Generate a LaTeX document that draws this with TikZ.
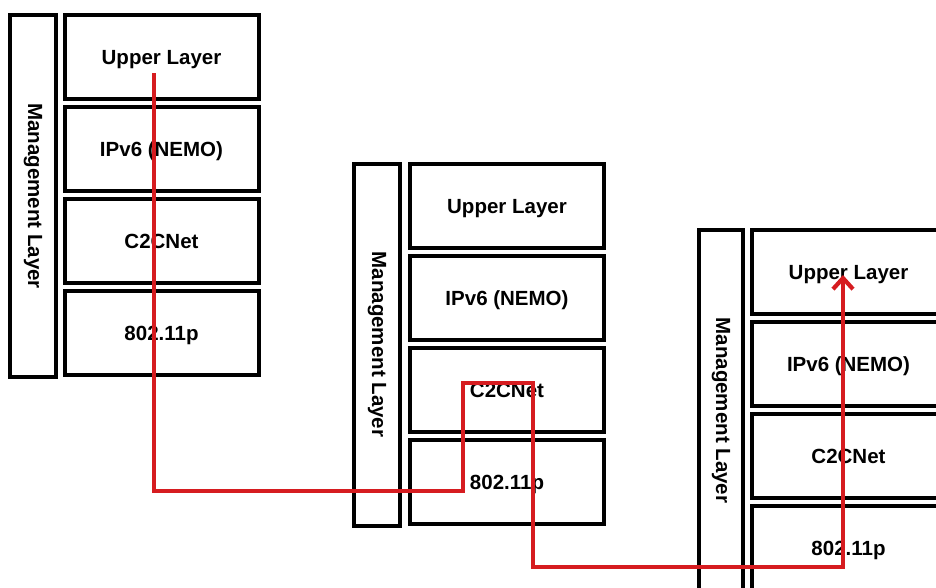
\documentclass[tikz,border=0pt]{standalone}
\usepackage{fontspec}
\setmainfont{Liberation Sans}
\usetikzlibrary{arrows.meta}
\definecolor{pathred}{RGB}{214,28,32}
\begin{document}
\begin{tikzpicture}[x=1pt,y=-1pt,
  layerbox/.style={draw, line width=4pt, minimum width=194pt, minimum height=84pt,
    inner sep=0pt, text height=14.7pt, text depth=0pt,
    font=\bfseries\fontsize{20.5}{24}\selectfont},
  mgmtbar/.style={draw, line width=4pt, rotate=-90, minimum width=362pt, minimum height=46pt,
    inner sep=0pt, font=\bfseries\fontsize{20.5}{24}\selectfont},
  redpath/.style={draw=pathred, line width=4.2pt, line join=miter}]
\clip (0,0) rectangle (936,587);
\fill[white] (0,0) rectangle (936,587);
% stack 1
\node[mgmtbar] (m1) at (33,196) {Management Layer};
\node[layerbox] (u1) at (161.5,57) {Upper Layer};
\node[layerbox] (i1) at (161.5,149) {IPv6 (NEMO)};
\node[layerbox] (c1) at (161.5,241) {C2CNet};
\node[layerbox] (w1) at (161.5,333) {802.11p};
% stack 2
\node[mgmtbar] (m2) at (377,344.5) {Management Layer};
\node[layerbox] (u2) at (507,206) {Upper Layer};
\node[layerbox] (i2) at (507,298) {IPv6 (NEMO)};
\node[layerbox] (c2) at (507,390) {C2CNet};
\node[layerbox] (w2) at (507,482) {802.11p};
% stack 3
\node[mgmtbar, minimum height=44pt] (m3) at (721,410.5) {Management Layer};
\node[layerbox] (u3) at (848.5,272) {Upper Layer};
\node[layerbox] (i3) at (848.5,364) {IPv6 (NEMO)};
\node[layerbox] (c3) at (848.5,456) {C2CNet};
\node[layerbox] (w3) at (848.5,548) {802.11p};
% red path
\coordinate (p0) at (154,73);
\coordinate (p1) at (154,491);
\coordinate (p2) at (463,491);
\coordinate (p3) at (463,383);
\coordinate (p4) at (533,383);
\coordinate (p5) at (533,567);
\coordinate (p6) at (843,567);
\coordinate (p7) at (843,275);
\draw[redpath, -{Straight Barb[length=11pt,width=20pt]}]
  (p0) -- (p1) -- (p2) -- (p3) -- (p4) -- (p5) -- (p6) -- (p7);
\end{tikzpicture}
\end{document}
